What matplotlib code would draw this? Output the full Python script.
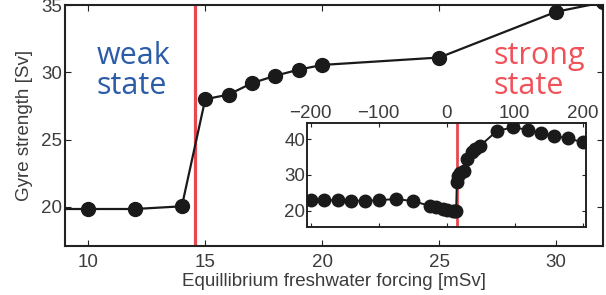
import numpy as np
import matplotlib.pyplot as plt

# main panel: gyre strength vs equilibrium freshwater forcing
forcing = [8, 10, 12, 14, 15, 16, 17, 18, 19, 20, 25, 30, 32]
gyre = [19.85, 19.85, 19.85, 20.05, 28.0, 28.35, 29.2, 29.75, 30.2, 30.55, 31.1, 34.5, 35.2]

# inset: wider forcing range
forcing_in = [-200, -180, -160, -140, -120, -100, -75, -50, -25, -15, -5, 0, 10, 12, 14,
              15, 17, 19, 25, 30, 37, 42, 49, 74, 98, 119, 139, 158, 179, 201]
gyre_in = [23.0, 23.0, 22.9, 22.8, 22.8, 22.9, 23.3, 22.7, 21.4, 21.0, 20.6, 20.3, 19.9, 19.8, 20.0,
           28.0, 29.6, 30.6, 31.2, 34.4, 36.4, 37.2, 38.1, 42.3, 43.3, 42.6, 41.7, 40.9, 40.2, 39.1]

threshold = 14.55
red = '#e8474f'
txt_gray = '#3c3c3c'

plt.rcParams['font.family'] = ['Liberation Sans', 'DejaVu Sans']
plt.rcParams['font.size'] = 13.5

fig = plt.figure(figsize=(6.06, 2.95), dpi=100)
ax = fig.add_axes([0.107, 0.166, 0.888, 0.817])

ax.axvline(threshold, color=red, lw=2.3, zorder=1)
ax.plot(forcing, gyre, '-o', color='#1a1a1a', lw=1.6, ms=10, zorder=3)
ax.set_xlim(9, 32)
ax.set_ylim(17.1, 35)
ax.set_xticks([10, 15, 20, 25, 30])
ax.set_yticks([20, 25, 30, 35])
ax.tick_params(direction='in', top=True, right=True, length=4, colors='#222222',
               labelcolor=txt_gray)
ax.tick_params(axis='x', pad=6)
ax.tick_params(axis='y', pad=2)
for s in ax.spines.values():
    s.set_linewidth(1.5)
    s.set_color('#222222')
ax.set_xlabel('Equillibrium freshwater forcing [mSv]', color=txt_gray, labelpad=1.5)
ax.set_ylabel('Gyre strength [Sv]', color=txt_gray, labelpad=6)

state_font = dict(fontsize=22, family='Open Sans', va='baseline', transform=ax.transAxes)
ax.text(0.059, 0.756, 'weak', color='#2b5ca8', **state_font)
ax.text(0.059, 0.632, 'state', color='#2b5ca8', **state_font)
ax.text(0.796, 0.756, 'strong', color='#f05259', **state_font)
ax.text(0.796, 0.632, 'state', color='#f05259', **state_font)

# inset
ins = fig.add_axes([0.507, 0.231, 0.46, 0.352])
ins.axvline(threshold, color=red, lw=2.0, zorder=1)
ins.plot(forcing_in, gyre_in, '-o', color='#1a1a1a', lw=1.4, ms=9, zorder=3)
ins.set_xlim(-205, 205)
ins.set_ylim(15.5, 44.5)
ins.set_xticks([-200, -100, 0, 100, 200])
ins.set_yticks([20, 30, 40])
ins.xaxis.tick_top()
ins.tick_params(direction='in', top=True, bottom=True, right=True, length=3,
                colors='#222222', labelcolor=txt_gray)
ins.tick_params(axis='x', pad=0.5)
ins.tick_params(axis='y', pad=1.5)
ins.set_xticklabels(['\u2212200', '\u2212100', '0', '100', '200'])
for s in ins.spines.values():
    s.set_linewidth(1.4)
    s.set_color('#222222')

fig.savefig('out.png', dpi=100)
